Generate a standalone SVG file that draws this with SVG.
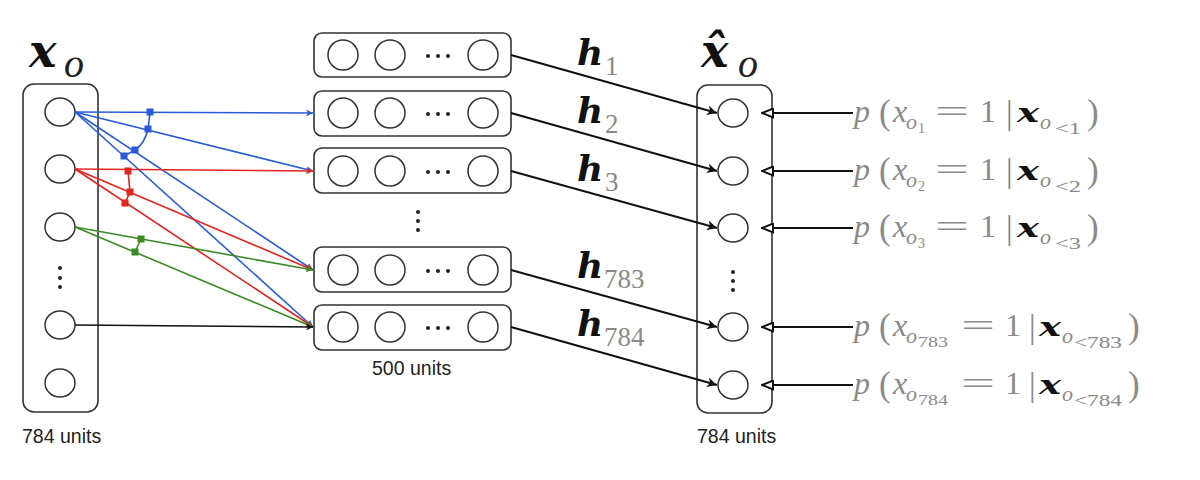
<svg xmlns="http://www.w3.org/2000/svg" width="1200" height="480" viewBox="0 0 1200 480">
<defs>
<style>
.box{fill:#fff;stroke:#333;stroke-width:1.6}
.unit{fill:#fff;stroke:#333;stroke-width:1.5}
.dot{fill:#222}
.lbl{font-family:"Liberation Sans",Arial,sans-serif;font-size:19.5px;fill:#222}
.m{font-family:"Liberation Serif","DejaVu Serif",serif;fill:#8a8a8a}
.it{font-style:italic}
.bx{font-family:"DejaVu Serif",serif;font-style:italic;font-weight:bold;fill:#111}
.dk{fill:#222}
.blk{stroke:#111;stroke-width:2;fill:none}
.blue{stroke:#2a5bd7;stroke-width:1.6;fill:none}
.red{stroke:#e0261f;stroke-width:1.6;fill:none}
.green{stroke:#3c8a26;stroke-width:1.6;fill:none}
.thin{stroke:#111;stroke-width:1.6;fill:none}
</style>
<marker id="ab" viewBox="0 0 10 10" refX="10" refY="5" markerWidth="9" markerHeight="7" markerUnits="userSpaceOnUse" orient="auto"><path d="M0,0 L10,5 L0,10 L3,5 z" fill="#2a5bd7"/></marker>
<marker id="ar" viewBox="0 0 10 10" refX="10" refY="5" markerWidth="9" markerHeight="7" markerUnits="userSpaceOnUse" orient="auto"><path d="M0,0 L10,5 L0,10 L3,5 z" fill="#e0261f"/></marker>
<marker id="ag" viewBox="0 0 10 10" refX="10" refY="5" markerWidth="9" markerHeight="7" markerUnits="userSpaceOnUse" orient="auto"><path d="M0,0 L10,5 L0,10 L3,5 z" fill="#3c8a26"/></marker>
<marker id="ak" viewBox="0 0 10 10" refX="10" refY="5" markerWidth="9" markerHeight="7" markerUnits="userSpaceOnUse" orient="auto"><path d="M0,0 L10,5 L0,10 L3,5 z" fill="#111"/></marker>
<marker id="af" viewBox="0 0 10 10" refX="10" refY="5" markerWidth="14" markerHeight="10" markerUnits="userSpaceOnUse" orient="auto"><path d="M0,0 L10,5 L0,10 L3,5 z" fill="#111"/></marker>
<marker id="ao" viewBox="0 0 12 10" refX="11" refY="5" markerWidth="14" markerHeight="11" markerUnits="userSpaceOnUse" orient="auto"><path d="M1,1 L11,5 L1,9 z" fill="#fff" stroke="#111" stroke-width="1.8"/></marker>
</defs>
<rect width="1200" height="480" fill="#fff"/>

<!-- input column -->
<g id="input">
<text class="m"><tspan x="29" y="67" class="bx" font-size="46">x</tspan><tspan x="64" y="77" class="it dk" font-size="40">o</tspan></text>
<rect class="box" x="23" y="84" width="75" height="328" rx="11"/>
<ellipse class="unit" cx="60" cy="112" rx="15" ry="14"/>
<ellipse class="unit" cx="60" cy="169" rx="15" ry="14"/>
<ellipse class="unit" cx="60" cy="227" rx="15" ry="14"/>
<circle class="dot" cx="60" cy="268" r="2"/><circle class="dot" cx="60" cy="278" r="2"/><circle class="dot" cx="60" cy="287" r="2"/>
<ellipse class="unit" cx="60" cy="325" rx="15" ry="14"/>
<ellipse class="unit" cx="60" cy="383" rx="15" ry="14"/>
<text class="lbl" x="22" y="443">784 units</text>
</g>

<!-- hidden layers -->
<g id="hidden1"><rect class="box" x="314" y="33" width="197" height="44" rx="8"/>
<ellipse class="unit" cx="343" cy="55" rx="15" ry="15"/><ellipse class="unit" cx="390" cy="55" rx="15" ry="15"/><ellipse class="unit" cx="483" cy="55" rx="15" ry="15"/>
<circle class="dot" cx="428" cy="56" r="2"/><circle class="dot" cx="438" cy="56" r="2"/><circle class="dot" cx="448" cy="56" r="2"/></g>
<g id="hidden2"><rect class="box" x="314" y="91" width="197" height="45" rx="8"/>
<ellipse class="unit" cx="343" cy="113" rx="15" ry="15"/><ellipse class="unit" cx="390" cy="113" rx="15" ry="15"/><ellipse class="unit" cx="483" cy="113" rx="15" ry="15"/>
<circle class="dot" cx="428" cy="114" r="2"/><circle class="dot" cx="438" cy="114" r="2"/><circle class="dot" cx="448" cy="114" r="2"/></g>
<g id="hidden3"><rect class="box" x="314" y="148" width="197" height="45" rx="8"/>
<ellipse class="unit" cx="343" cy="171" rx="15" ry="15"/><ellipse class="unit" cx="390" cy="171" rx="15" ry="15"/><ellipse class="unit" cx="483" cy="171" rx="15" ry="15"/>
<circle class="dot" cx="428" cy="172" r="2"/><circle class="dot" cx="438" cy="172" r="2"/><circle class="dot" cx="448" cy="172" r="2"/></g>
<g id="hidden-dots"><circle class="dot" cx="418" cy="212" r="2"/><circle class="dot" cx="418" cy="221" r="2"/><circle class="dot" cx="418" cy="230" r="2"/></g>
<g id="hidden783"><rect class="box" x="314" y="247" width="197" height="45" rx="8"/>
<ellipse class="unit" cx="343" cy="270" rx="15" ry="15"/><ellipse class="unit" cx="390" cy="270" rx="15" ry="15"/><ellipse class="unit" cx="483" cy="270" rx="15" ry="15"/>
<circle class="dot" cx="428" cy="271" r="2"/><circle class="dot" cx="438" cy="271" r="2"/><circle class="dot" cx="448" cy="271" r="2"/></g>
<g id="hidden784"><rect class="box" x="314" y="305" width="197" height="45" rx="8"/>
<ellipse class="unit" cx="343" cy="327" rx="15" ry="15"/><ellipse class="unit" cx="390" cy="327" rx="15" ry="15"/><ellipse class="unit" cx="483" cy="327" rx="15" ry="15"/>
<circle class="dot" cx="428" cy="328" r="2"/><circle class="dot" cx="438" cy="328" r="2"/><circle class="dot" cx="448" cy="328" r="2"/>
<text class="lbl" x="372" y="375">500 units</text></g>

<!-- output column -->
<g id="output">
<text class="m"><tspan x="701" y="67" class="bx" font-size="46">x̂</tspan><tspan x="738" y="77" class="it dk" font-size="40">o</tspan></text>
<rect class="box" x="697" y="85" width="75" height="328" rx="11"/>
<ellipse class="unit" cx="733" cy="113" rx="15" ry="14"/>
<ellipse class="unit" cx="733" cy="171" rx="15" ry="14"/>
<ellipse class="unit" cx="733" cy="228" rx="15" ry="14"/>
<circle class="dot" cx="733" cy="272" r="2"/><circle class="dot" cx="733" cy="281" r="2"/><circle class="dot" cx="733" cy="290" r="2"/>
<ellipse class="unit" cx="733" cy="327" rx="15" ry="14"/>
<ellipse class="unit" cx="733" cy="385" rx="15" ry="14"/>
<text class="lbl" x="697" y="443">784 units</text>
</g>

<!-- connectors -->
<g id="connectors">
<line class="blue" x1="75" y1="112" x2="313" y2="113" marker-end="url(#ab)"/>
<line class="blue" x1="75" y1="112" x2="313" y2="171" marker-end="url(#ab)"/>
<line class="blue" x1="75" y1="112" x2="313" y2="270" marker-end="url(#ab)"/>
<line class="blue" x1="75" y1="112" x2="313" y2="327" marker-end="url(#ab)"/>
<line class="red" x1="75" y1="169" x2="313" y2="171" marker-end="url(#ar)"/>
<line class="red" x1="75" y1="169" x2="313" y2="270" marker-end="url(#ar)"/>
<line class="red" x1="75" y1="169" x2="313" y2="327" marker-end="url(#ar)"/>
<line class="green" x1="75" y1="227" x2="313" y2="270" marker-end="url(#ag)"/>
<line class="green" x1="75" y1="227" x2="313" y2="327" marker-end="url(#ag)"/>
<line class="thin" x1="75" y1="325" x2="313" y2="327" marker-end="url(#ak)"/>
<path class="blue" d="M150,112 L148,129 Q145,143 135,150 L124,156"/>
<g fill="#2a5bd7"><rect x="146.5" y="108.5" width="7" height="7"/><rect x="144.5" y="125.5" width="7" height="7"/><rect x="131.5" y="146.5" width="7" height="7"/><rect x="120.5" y="152.5" width="7" height="7"/></g>
<path class="red" d="M128,171 L130,192 L125,203"/>
<g fill="#e0261f"><rect x="124.5" y="167.5" width="7" height="7"/><rect x="126.5" y="188.5" width="7" height="7"/><rect x="121.5" y="199.5" width="7" height="7"/></g>
<path class="green" d="M141,239 L135,252"/>
<g fill="#3c8a26"><rect x="137.5" y="235.5" width="7" height="7"/><rect x="131.5" y="248.5" width="7" height="7"/></g>

<line class="blk" x1="511" y1="55" x2="717" y2="113" marker-end="url(#af)"/>
<line class="blk" x1="511" y1="113" x2="717" y2="171" marker-end="url(#af)"/>
<line class="blk" x1="511" y1="171" x2="717" y2="228" marker-end="url(#af)"/>
<line class="blk" x1="511" y1="270" x2="717" y2="327" marker-end="url(#af)"/>
<line class="blk" x1="511" y1="327" x2="717" y2="385" marker-end="url(#af)"/>

<line class="blk" x1="853" y1="113" x2="762" y2="113" marker-end="url(#ao)"/>
<line class="blk" x1="853" y1="171" x2="762" y2="171" marker-end="url(#ao)"/>
<line class="blk" x1="853" y1="228" x2="762" y2="228" marker-end="url(#ao)"/>
<line class="blk" x1="853" y1="327" x2="762" y2="327" marker-end="url(#ao)"/>
<line class="blk" x1="853" y1="385" x2="762" y2="385" marker-end="url(#ao)"/>
</g>

<!-- h labels -->
<g id="h-labels" class="m">
<text><tspan x="577" y="65" class="bx" font-size="36">h</tspan><tspan x="605" y="75" font-size="27">1</tspan></text>
<text><tspan x="577" y="123" class="bx" font-size="36">h</tspan><tspan x="605" y="133" font-size="27">2</tspan></text>
<text><tspan x="577" y="181" class="bx" font-size="36">h</tspan><tspan x="605" y="191" font-size="27">3</tspan></text>
<text><tspan x="577" y="278" class="bx" font-size="36">h</tspan><tspan x="604" y="288" font-size="27">783</tspan></text>
<text><tspan x="577" y="336" class="bx" font-size="36">h</tspan><tspan x="604" y="346" font-size="27">784</tspan></text>
</g>

<!-- probability labels -->
<g id="probs" class="m" font-size="32">
<text><tspan x="854" y="122" class="it">p</tspan><tspan x="879" y="124" font-size="35">(</tspan><tspan x="893" y="122" class="it">x</tspan><tspan x="906" y="129" class="it" font-size="22">o</tspan><tspan x="918" y="133" font-size="14">1</tspan><tspan x="935" y="122" textLength="34" lengthAdjust="spacingAndGlyphs">=</tspan><tspan x="980" y="122">1</tspan><tspan x="1006" y="124" font-size="33">|</tspan><tspan x="1017" y="122" class="bx" font-size="26" textLength="22" lengthAdjust="spacingAndGlyphs">x</tspan><tspan x="1040" y="129" class="it" font-size="22">o</tspan><tspan x="1055" y="134" font-size="16" textLength="26" lengthAdjust="spacingAndGlyphs">&lt;1</tspan><tspan x="1087" y="124" font-size="35">)</tspan></text>
<text><tspan x="854" y="180" class="it">p</tspan><tspan x="879" y="182" font-size="35">(</tspan><tspan x="893" y="180" class="it">x</tspan><tspan x="906" y="187" class="it" font-size="22">o</tspan><tspan x="918" y="191" font-size="14">2</tspan><tspan x="935" y="180" textLength="34" lengthAdjust="spacingAndGlyphs">=</tspan><tspan x="980" y="180">1</tspan><tspan x="1006" y="182" font-size="33">|</tspan><tspan x="1017" y="180" class="bx" font-size="26" textLength="22" lengthAdjust="spacingAndGlyphs">x</tspan><tspan x="1040" y="187" class="it" font-size="22">o</tspan><tspan x="1055" y="192" font-size="16" textLength="26" lengthAdjust="spacingAndGlyphs">&lt;2</tspan><tspan x="1087" y="182" font-size="35">)</tspan></text>
<text><tspan x="854" y="237" class="it">p</tspan><tspan x="879" y="239" font-size="35">(</tspan><tspan x="893" y="237" class="it">x</tspan><tspan x="906" y="244" class="it" font-size="22">o</tspan><tspan x="918" y="248" font-size="14">3</tspan><tspan x="935" y="237" textLength="34" lengthAdjust="spacingAndGlyphs">=</tspan><tspan x="980" y="237">1</tspan><tspan x="1006" y="239" font-size="33">|</tspan><tspan x="1017" y="237" class="bx" font-size="26" textLength="22" lengthAdjust="spacingAndGlyphs">x</tspan><tspan x="1040" y="244" class="it" font-size="22">o</tspan><tspan x="1055" y="249" font-size="16" textLength="26" lengthAdjust="spacingAndGlyphs">&lt;3</tspan><tspan x="1087" y="239" font-size="35">)</tspan></text>
<text><tspan x="854" y="336" class="it">p</tspan><tspan x="879" y="338" font-size="35">(</tspan><tspan x="893" y="336" class="it">x</tspan><tspan x="906" y="343" class="it" font-size="22">o</tspan><tspan x="918" y="347" font-size="15" textLength="30" lengthAdjust="spacingAndGlyphs">783</tspan><tspan x="961" y="336" textLength="34" lengthAdjust="spacingAndGlyphs">=</tspan><tspan x="1005" y="336">1</tspan><tspan x="1029" y="338" font-size="33">|</tspan><tspan x="1039" y="336" class="bx" font-size="26" textLength="22" lengthAdjust="spacingAndGlyphs">x</tspan><tspan x="1062" y="343" class="it" font-size="22">o</tspan><tspan x="1074" y="348" font-size="16" textLength="48" lengthAdjust="spacingAndGlyphs">&lt;783</tspan><tspan x="1128" y="338" font-size="35">)</tspan></text>
<text><tspan x="854" y="394" class="it">p</tspan><tspan x="879" y="396" font-size="35">(</tspan><tspan x="893" y="394" class="it">x</tspan><tspan x="906" y="401" class="it" font-size="22">o</tspan><tspan x="918" y="405" font-size="15" textLength="30" lengthAdjust="spacingAndGlyphs">784</tspan><tspan x="961" y="394" textLength="34" lengthAdjust="spacingAndGlyphs">=</tspan><tspan x="1005" y="394">1</tspan><tspan x="1029" y="396" font-size="33">|</tspan><tspan x="1039" y="394" class="bx" font-size="26" textLength="22" lengthAdjust="spacingAndGlyphs">x</tspan><tspan x="1062" y="401" class="it" font-size="22">o</tspan><tspan x="1074" y="406" font-size="16" textLength="48" lengthAdjust="spacingAndGlyphs">&lt;784</tspan><tspan x="1128" y="396" font-size="35">)</tspan></text>
</g>
</svg>
